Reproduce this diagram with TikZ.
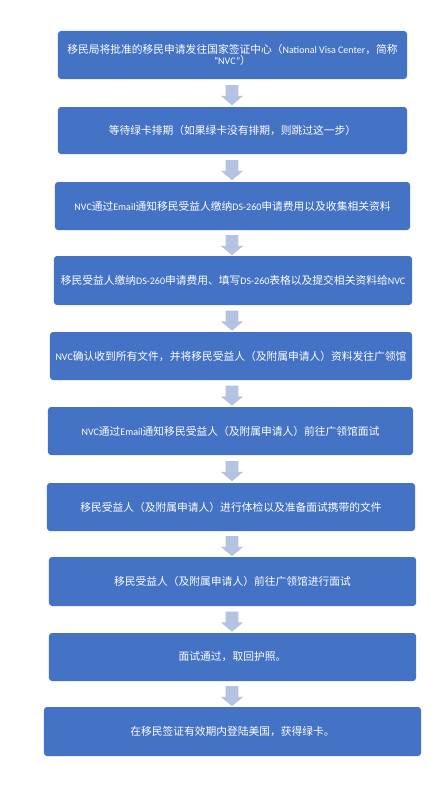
\documentclass[tikz,border=0pt]{standalone}
\usepackage{fontspec}
\setmainfont{Noto Sans CJK SC}
\newfontfamily\lat[Scale=0.93]{Carlito}
\usetikzlibrary{shapes.arrows,calc}
\definecolor{boxblue}{HTML}{4472C4}
\definecolor{arrowblue}{HTML}{B4C3E1}
\tikzset{
  flowbox/.style={rectangle, rounded corners=3bp, fill=boxblue, text=white,
    inner sep=0pt, align=center, font=\fontsize{10.8}{11}\selectfont},
  flowarrow/.style={single arrow, fill=arrowblue, draw=none, inner xsep=0pt,
    inner ysep=6.25bp, minimum height=20bp, single arrow head extend=4.75bp,
    single arrow tip angle=100, rotate=-90}
}
\begin{document}
\begin{tikzpicture}[x=1bp,y=-1bp]
\useasboundingbox (0,0) rectangle (446,787);
\fill[white] (0,0) rectangle (446,787);
\node[flowbox, minimum width=349bp, minimum height=48bp] (b1) at (232.5,55)
  {移民局将批准的移民申请发往国家签证中心（{\lat National Visa Center}，简称\\{\lat “NVC”}）};
\node[flowbox, minimum width=349bp, minimum height=47bp] (b2) at (232.5,130.5)
  {等待绿卡排期（如果绿卡没有排期，则跳过这一步）};
\node[flowbox, minimum width=355bp, minimum height=48bp] (b3) at (232.5,206)
  {{\lat NVC}通过{\lat Email}通知移民受益人缴纳{\lat DS-260}申请费用以及收集相关资料};
\node[flowbox, minimum width=358bp, minimum height=49bp] (b4) at (233,280.5)
  {移民受益人缴纳{\lat DS-260}申请费用、填写{\lat DS-260}表格以及提交相关资料给{\lat NVC}};
\node[flowbox, minimum width=362bp, minimum height=48bp] (b5) at (231,356)
  {{\lat NVC}确认收到所有文件，并将移民受益人（及附属申请人）资料发往广领馆};
\node[flowbox, minimum width=365bp, minimum height=48bp] (b6) at (230.5,431)
  {{\lat NVC}通过{\lat Email}通知移民受益人（及附属申请人）前往广领馆面试};
\node[flowbox, minimum width=368bp, minimum height=48bp] (b7) at (231,507)
  {移民受益人（及附属申请人）进行体检以及准备面试携带的文件};
\node[flowbox, minimum width=367bp, minimum height=49bp] (b8) at (232.5,581.5)
  {移民受益人（及附属申请人）前往广领馆进行面试};
\node[flowbox, minimum width=367bp, minimum height=48bp] (b9) at (232.5,657)
  {面试通过，取回护照。};
\node[flowbox, minimum width=377bp, minimum height=49bp] (b10) at (232.5,731.5)
  {在移民签证有效期内登陆美国，获得绿卡。};
\foreach \a/\b in {b1/b2,b2/b3,b3/b4,b4/b5,b5/b6,b6/b7,b7/b8,b8/b9,b9/b10}{
  \coordinate (m-\a) at ($(\a.south)!0.5!(\b.north)+(0,-0.5)$);
  \node[flowarrow] (\a-\b) at (232,0 |- m-\a) {};
}
\end{tikzpicture}
\end{document}
